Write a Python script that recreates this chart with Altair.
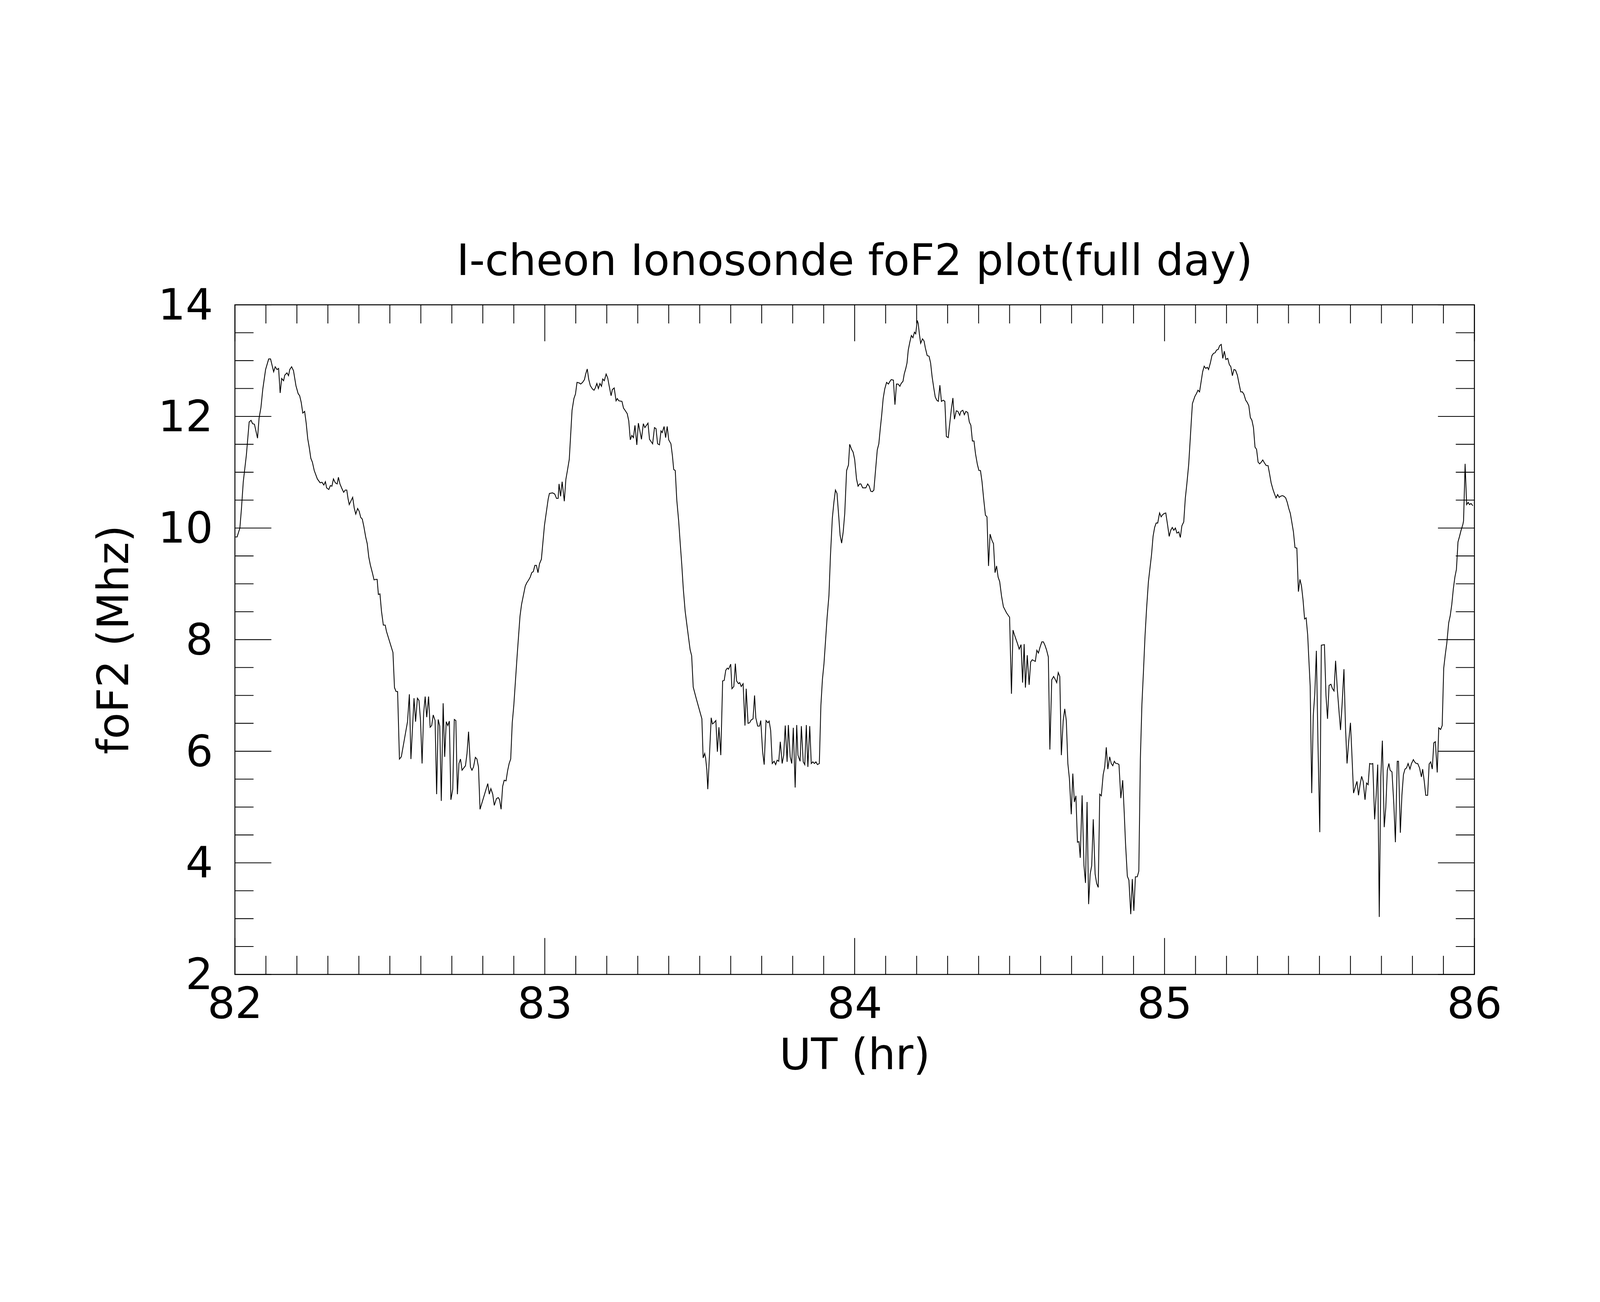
import pandas as pd
import altair as alt

# foF2 trace, four consecutive pieces of the day
ut_seg1 = [82.000, 82.007, 82.016, 82.021, 82.027, 82.037, 82.046, 82.052, 82.057, 82.063,
           82.073, 82.078, 82.084, 82.090, 82.099, 82.109, 82.115, 82.125, 82.130, 82.136,
           82.141, 82.146, 82.151, 82.157, 82.161, 82.168, 82.173, 82.177, 82.183, 82.189,
           82.197, 82.204, 82.209, 82.214, 82.219, 82.225, 82.230, 82.235, 82.240, 82.245,
           82.250, 82.256, 82.266, 82.275, 82.281, 82.287, 82.292, 82.296, 82.303, 82.308,
           82.313, 82.318, 82.324, 82.330, 82.334, 82.339, 82.345, 82.351, 82.356, 82.361,
           82.365, 82.369, 82.380, 82.385, 82.390, 82.396, 82.401, 82.406, 82.411, 82.416,
           82.422, 82.427, 82.432, 82.437, 82.444, 82.449, 82.455, 82.459, 82.463, 82.468,
           82.473, 82.479, 82.485, 82.489, 82.500, 82.510, 82.515, 82.520, 82.525, 82.531,
           82.537, 82.557, 82.563, 82.568, 82.578, 82.583, 82.589, 82.594, 82.599, 82.604,
           82.609, 82.614, 82.619, 82.625, 82.630, 82.635, 82.640, 82.646, 82.651, 82.656,
           82.661, 82.666, 82.672, 82.677, 82.682, 82.687, 82.692, 82.697, 82.703, 82.708,
           82.713, 82.718, 82.723, 82.728, 82.733, 82.744, 82.749, 82.754, 82.760, 82.765,
           82.770, 82.776, 82.781, 82.786, 82.791, 82.816, 82.821, 82.826, 82.832, 82.837,
           82.844, 82.850, 82.854, 82.859, 82.864, 82.869, 82.875, 82.880, 82.885, 82.890,
           82.895, 82.900, 82.911, 82.920, 82.925, 82.937, 82.942, 82.948, 82.953, 82.958,
           82.963, 82.968, 82.973, 82.978, 82.983, 82.989, 82.999, 83.011, 83.015, 83.025,
           83.032, 83.038, 83.043, 83.046, 83.051, 83.056]
fof2_seg1 = [9.84, 9.84, 10.00, 10.34, 10.83, 11.31, 11.90, 11.93, 11.87, 11.86,
             11.61, 11.97, 12.16, 12.49, 12.84, 13.03, 13.03, 12.80, 12.89, 12.84,
             12.86, 12.42, 12.68, 12.64, 12.74, 12.78, 12.73, 12.84, 12.89, 12.82,
             12.55, 12.41, 12.37, 12.25, 12.06, 12.09, 11.88, 11.60, 11.44, 11.25,
             11.18, 11.03, 10.88, 10.81, 10.82, 10.77, 10.83, 10.72, 10.69, 10.76,
             10.75, 10.88, 10.81, 10.79, 10.91, 10.79, 10.71, 10.64, 10.68, 10.68,
             10.53, 10.42, 10.55, 10.36, 10.25, 10.35, 10.30, 10.19, 10.16, 10.03,
             9.84, 9.72, 9.48, 9.34, 9.19, 9.07, 9.08, 9.08, 8.81, 8.82,
             8.51, 8.26, 8.26, 8.15, 7.95, 7.77, 7.14, 7.07, 7.07, 5.86,
             5.90, 6.53, 7.02, 5.86, 6.95, 6.53, 6.95, 6.91, 6.55, 5.78,
             6.68, 6.98, 6.61, 6.98, 6.43, 6.46, 6.65, 6.55, 5.23, 6.57,
             6.45, 5.11, 6.86, 5.90, 6.53, 6.46, 6.54, 5.13, 5.32, 6.57,
             6.55, 5.23, 5.78, 5.86, 5.66, 5.74, 5.96, 6.35, 5.72, 5.66,
             5.72, 5.89, 5.86, 5.72, 4.96, 5.42, 5.23, 5.33, 5.23, 5.03,
             5.15, 5.17, 5.13, 4.96, 5.37, 5.48, 5.47, 5.65, 5.78, 5.86,
             6.51, 6.82, 7.73, 8.42, 8.63, 8.96, 9.02, 9.07, 9.12, 9.20,
             9.22, 9.33, 9.33, 9.20, 9.36, 9.44, 10.05, 10.52, 10.62, 10.63,
             10.61, 10.53, 10.53, 10.79, 10.57, 10.83]

ut_seg2 = [83.063, 83.068, 83.073, 83.079, 83.083, 83.088, 83.094, 83.099, 83.104, 83.111,
           83.116, 83.122, 83.128, 83.132, 83.137, 83.142, 83.147, 83.154, 83.159, 83.163,
           83.168, 83.173, 83.178, 83.183, 83.187, 83.192, 83.198, 83.203, 83.208, 83.214,
           83.218, 83.224, 83.230, 83.234, 83.239, 83.249, 83.254, 83.259, 83.266, 83.271,
           83.276, 83.281, 83.286, 83.291, 83.297, 83.302, 83.312, 83.318, 83.323, 83.333,
           83.338, 83.348, 83.354, 83.359, 83.364, 83.370, 83.375, 83.379, 83.385, 83.390,
           83.395, 83.400, 83.407, 83.412, 83.416, 83.421, 83.426, 83.432, 83.437, 83.442,
           83.447, 83.453, 83.458, 83.469, 83.474, 83.479, 83.488, 83.507, 83.511, 83.516,
           83.519, 83.523, 83.526, 83.532, 83.537, 83.541, 83.546, 83.552, 83.557, 83.562,
           83.568, 83.574, 83.579, 83.584, 83.589, 83.593, 83.600, 83.604, 83.610, 83.615,
           83.619, 83.625, 83.629, 83.634, 83.640, 83.646, 83.650, 83.656, 83.661, 83.666,
           83.672, 83.677, 83.681, 83.687, 83.693, 83.697, 83.703, 83.708, 83.714, 83.720,
           83.724, 83.729, 83.734, 83.740, 83.745, 83.750, 83.755, 83.760, 83.766, 83.771,
           83.776, 83.782, 83.786, 83.792, 83.797, 83.802, 83.808, 83.813, 83.817, 83.824,
           83.828, 83.834, 83.839, 83.844, 83.849, 83.855, 83.860, 83.865, 83.870, 83.875,
           83.880, 83.886, 83.891, 83.896, 83.901, 83.907, 83.911, 83.917, 83.922, 83.928,
           83.933, 83.938, 83.943, 83.949, 83.953, 83.958, 83.963, 83.968, 83.974, 83.980,
           83.984, 83.990, 83.995, 84.000, 84.006, 84.011, 84.016, 84.020, 84.026, 84.031,
           84.036, 84.042, 84.047, 84.052, 84.057, 84.062, 84.067, 84.073]
fof2_seg2 = [10.48, 10.87, 11.03, 11.23, 11.62, 12.11, 12.32, 12.40, 12.61, 12.60,
             12.58, 12.61, 12.66, 12.76, 12.85, 12.66, 12.55, 12.49, 12.47, 12.51,
             12.59, 12.50, 12.59, 12.54, 12.67, 12.64, 12.76, 12.69, 12.54, 12.37,
             12.48, 12.51, 12.28, 12.32, 12.28, 12.27, 12.15, 12.11, 12.05, 11.92,
             11.58, 11.66, 11.62, 11.84, 11.49, 11.88, 11.59, 11.87, 11.80, 11.88,
             11.59, 11.51, 11.80, 11.78, 11.51, 11.49, 11.74, 11.71, 11.82, 11.62,
             11.82, 11.58, 11.51, 11.29, 11.05, 11.03, 10.50, 10.13, 9.73, 9.35,
             8.91, 8.51, 8.29, 7.82, 7.71, 7.15, 6.96, 6.58, 5.88, 5.96,
             5.88, 5.66, 5.32, 5.99, 6.60, 6.49, 6.51, 6.55, 5.99, 6.43,
             5.93, 7.26, 7.27, 7.45, 7.49, 7.47, 7.56, 7.12, 7.16, 7.57,
             7.26, 7.21, 7.23, 7.16, 7.21, 6.46, 7.12, 6.50, 6.51, 6.56,
             6.58, 7.00, 6.60, 6.45, 6.45, 6.55, 5.99, 5.76, 6.55, 6.51,
             6.54, 6.37, 5.78, 5.82, 5.76, 5.84, 5.82, 6.17, 5.78, 5.93,
             6.46, 5.81, 6.47, 5.90, 5.78, 6.42, 5.35, 6.47, 5.93, 5.82,
             6.45, 5.81, 5.76, 6.47, 5.72, 6.45, 5.78, 5.81, 5.78, 5.81,
             5.76, 5.78, 6.82, 7.29, 7.57, 8.06, 8.39, 8.79, 9.52, 10.18,
             10.46, 10.68, 10.62, 10.18, 9.87, 9.73, 9.93, 10.26, 11.03, 11.13,
             11.50, 11.41, 11.36, 11.23, 10.88, 10.75, 10.79, 10.79, 10.72, 10.72,
             10.72, 10.79, 10.75, 10.66, 10.65, 10.68, 11.01, 11.40]

ut_seg3 = [84.078, 84.083, 84.087, 84.092, 84.097, 84.103, 84.109, 84.113, 84.118, 84.125,
           84.130, 84.135, 84.140, 84.146, 84.150, 84.156, 84.160, 84.165, 84.169, 84.173,
           84.178, 84.183, 84.188, 84.193, 84.197, 84.202, 84.205, 84.209, 84.213, 84.219,
           84.224, 84.228, 84.234, 84.240, 84.245, 84.250, 84.255, 84.260, 84.265, 84.270,
           84.275, 84.280, 84.286, 84.291, 84.296, 84.302, 84.307, 84.312, 84.317, 84.322,
           84.328, 84.333, 84.339, 84.343, 84.349, 84.354, 84.359, 84.365, 84.370, 84.375,
           84.380, 84.385, 84.390, 84.396, 84.401, 84.406, 84.411, 84.416, 84.422, 84.427,
           84.432, 84.437, 84.443, 84.448, 84.453, 84.458, 84.463, 84.468, 84.474, 84.480,
           84.490, 84.500, 84.506, 84.511, 84.516, 84.521, 84.526, 84.531, 84.537, 84.542,
           84.547, 84.551, 84.557, 84.563, 84.568, 84.573, 84.583, 84.588, 84.593, 84.598,
           84.604, 84.609, 84.614, 84.619, 84.625, 84.630, 84.636, 84.642, 84.647, 84.652,
           84.657, 84.662, 84.667, 84.673, 84.678, 84.683, 84.688, 84.693, 84.699, 84.704,
           84.709, 84.714, 84.719, 84.724, 84.728, 84.734, 84.740, 84.745, 84.750, 84.755,
           84.760, 84.765, 84.770, 84.776, 84.781, 84.786, 84.791, 84.796, 84.802, 84.807,
           84.812, 84.817, 84.823, 84.828, 84.833, 84.838, 84.843, 84.848, 84.853, 84.859,
           84.865, 84.870, 84.874, 84.880, 84.885, 84.891, 84.896, 84.901, 84.906, 84.912,
           84.917, 84.922, 84.927, 84.932, 84.937, 84.942, 84.948, 84.953, 84.958, 84.963,
           84.968, 84.973, 84.978, 84.984, 84.989, 84.994, 84.999, 85.004, 85.010, 85.015,
           85.020, 85.025, 85.030, 85.035, 85.040, 85.046, 85.051, 85.056, 85.062, 85.067,
           85.072, 85.078, 85.083, 85.087, 85.090]
fof2_seg3 = [11.51, 11.80, 12.01, 12.32, 12.49, 12.61, 12.58, 12.62, 12.66, 12.65,
             12.21, 12.58, 12.58, 12.54, 12.59, 12.63, 12.76, 12.86, 12.96, 13.19,
             13.33, 13.45, 13.41, 13.51, 13.48, 13.72, 13.67, 13.47, 13.31, 13.39,
             13.35, 13.23, 13.09, 13.08, 12.96, 12.71, 12.52, 12.35, 12.29, 12.27,
             12.56, 12.27, 12.29, 12.27, 11.64, 11.62, 11.88, 12.13, 12.33, 11.95,
             12.10, 12.09, 12.02, 12.09, 12.11, 12.03, 12.09, 12.07, 11.90, 11.84,
             11.56, 11.56, 11.33, 11.14, 11.03, 11.03, 10.83, 10.54, 10.23, 10.20,
             9.32, 9.89, 9.78, 9.72, 9.20, 9.32, 9.12, 9.04, 8.78, 8.59,
             8.48, 8.40, 7.03, 8.17, 8.08, 8.00, 7.92, 7.83, 7.91, 7.23,
             7.92, 7.14, 7.72, 7.19, 7.60, 7.64, 7.61, 7.81, 7.76, 7.86,
             7.96, 7.96, 7.90, 7.82, 7.69, 6.03, 7.28, 7.34, 7.29, 7.23,
             7.41, 7.34, 5.93, 6.55, 6.76, 6.55, 5.78, 5.51, 4.87, 5.60,
             5.09, 5.20, 4.37, 4.38, 4.09, 5.21, 3.95, 3.64, 5.09, 3.26,
             3.80, 3.95, 4.78, 3.80, 3.63, 3.56, 5.23, 5.20, 5.58, 5.72,
             6.07, 5.68, 5.90, 5.78, 5.74, 5.82, 5.78, 5.78, 5.76, 5.16,
             5.48, 4.89, 4.36, 3.76, 3.69, 3.08, 3.71, 3.14, 3.75, 3.75,
             3.85, 5.86, 6.84, 7.43, 8.06, 8.55, 9.04, 9.28, 9.52, 9.85,
             10.01, 10.09, 10.09, 10.27, 10.20, 10.24, 10.26, 10.27, 10.05, 9.85,
             9.96, 10.01, 9.96, 10.00, 9.91, 9.93, 9.83, 10.04, 10.11, 10.53,
             10.79, 11.14, 11.60, 11.97, 12.23]

ut_seg4 = [85.098, 85.103, 85.108, 85.113, 85.118, 85.123, 85.128, 85.133, 85.138, 85.142,
           85.148, 85.153, 85.158, 85.163, 85.168, 85.173, 85.178, 85.183, 85.188, 85.193,
           85.198, 85.204, 85.209, 85.214, 85.219, 85.224, 85.229, 85.235, 85.240, 85.246,
           85.251, 85.256, 85.262, 85.267, 85.272, 85.277, 85.282, 85.287, 85.292, 85.297,
           85.302, 85.307, 85.312, 85.317, 85.322, 85.328, 85.334, 85.339, 85.344, 85.350,
           85.355, 85.360, 85.365, 85.370, 85.375, 85.380, 85.385, 85.391, 85.396, 85.401,
           85.406, 85.410, 85.416, 85.421, 85.427, 85.432, 85.437, 85.442, 85.447, 85.452,
           85.457, 85.462, 85.465, 85.470, 85.475, 85.480, 85.485, 85.490, 85.495, 85.501,
           85.506, 85.516, 85.521, 85.526, 85.531, 85.537, 85.542, 85.547, 85.552, 85.558,
           85.563, 85.568, 85.573, 85.579, 85.584, 85.589, 85.594, 85.600, 85.604, 85.610,
           85.615, 85.621, 85.626, 85.631, 85.636, 85.641, 85.647, 85.652, 85.657, 85.662,
           85.667, 85.672, 85.678, 85.683, 85.688, 85.693, 85.698, 85.703, 85.709, 85.714,
           85.719, 85.724, 85.728, 85.734, 85.740, 85.745, 85.751, 85.755, 85.761, 85.766,
           85.771, 85.776, 85.781, 85.786, 85.792, 85.797, 85.803, 85.807, 85.812, 85.817,
           85.823, 85.829, 85.833, 85.838, 85.843, 85.849, 85.854, 85.859, 85.864, 85.869,
           85.874, 85.880, 85.885, 85.891, 85.896, 85.901, 85.906, 85.911, 85.917, 85.922,
           85.927, 85.932, 85.937, 85.942, 85.947, 85.952, 85.957, 85.963, 85.965, 85.970,
           85.975, 85.980, 85.984, 85.989, 85.995]
fof2_seg4 = [12.36, 12.41, 12.47, 12.44, 12.62, 12.80, 12.90, 12.86, 12.88, 12.84,
             12.96, 13.09, 13.13, 13.14, 13.19, 13.20, 13.27, 13.29, 13.04, 13.17,
             13.02, 13.04, 12.93, 12.89, 12.73, 12.84, 12.83, 12.74, 12.60, 12.44,
             12.44, 12.40, 12.29, 12.25, 12.19, 11.98, 11.93, 11.80, 11.45, 11.41,
             11.18, 11.15, 11.18, 11.22, 11.17, 11.12, 11.12, 10.97, 10.81, 10.69,
             10.61, 10.54, 10.60, 10.55, 10.57, 10.58, 10.57, 10.54, 10.46, 10.35,
             10.26, 10.13, 9.93, 9.65, 9.64, 8.86, 9.08, 8.96, 8.71, 8.37,
             8.39, 8.08, 7.73, 7.17, 5.25, 6.64, 7.04, 7.80, 6.19, 4.55,
             7.90, 7.91, 7.00, 6.58, 7.18, 7.20, 7.12, 7.08, 7.62, 7.08,
             6.72, 6.38, 6.84, 7.47, 6.43, 5.78, 6.15, 6.51, 6.03, 5.25,
             5.35, 5.46, 5.21, 5.40, 5.55, 5.46, 5.13, 5.43, 5.40, 5.78,
             5.77, 5.78, 4.78, 5.21, 5.76, 3.03, 5.54, 6.19, 4.64, 4.99,
             5.66, 5.78, 5.66, 5.63, 5.05, 4.37, 5.82, 5.82, 4.54, 5.21,
             5.58, 5.68, 5.70, 5.78, 5.68, 5.78, 5.85, 5.81, 5.78, 5.78,
             5.70, 5.54, 5.68, 5.47, 5.21, 5.21, 5.77, 5.81, 5.68, 6.15,
             6.17, 5.62, 6.42, 6.39, 6.46, 7.49, 7.73, 7.94, 8.30, 8.43,
             8.63, 8.91, 9.12, 9.26, 9.75, 9.85, 9.96, 10.07, 10.13, 11.15,
             10.42, 10.46, 10.42, 10.44, 10.40]

# axis ticks
x_major = [82, 83, 84, 85, 86]
y_major = [2, 4, 6, 8, 10, 12, 14]
x_minor = [round(82 + i / 10, 1) for i in range(1, 40) if i % 10]
y_minor = [2 + i / 2 for i in range(1, 24) if i % 4]

W, H = 4524, 2444
MAJOR, MINOR = 133, 68
FONT = "DejaVu Sans"
FS = 158

df = pd.DataFrame({
    "UT": ut_seg1 + ut_seg2 + ut_seg3 + ut_seg4,
    "foF2": fof2_seg1 + fof2_seg2 + fof2_seg3 + fof2_seg4,
})

xscale = alt.Scale(domain=[82, 86], nice=False, zero=False)
yscale = alt.Scale(domain=[2, 14], nice=False, zero=False)

x_axis = alt.Axis(values=x_major, format="d", ticks=False, tickSize=0, domain=False, grid=False,
                  labelFont=FONT, labelFontSize=FS, labelColor="black", labelPadding=34,
                  labelLimit=0, labelFlush=False,
                  titleFont=FONT, titleFontSize=FS, titleFontWeight="normal", titleColor="black",
                  titleX=W / 2, titleY=345, titleBaseline="alphabetic", titleAlign="center")
y_axis = alt.Axis(values=y_major, format="d", ticks=False, tickSize=0, domain=False, grid=False,
                  labelFont=FONT, labelFontSize=FS, labelColor="black", labelPadding=80,
                  labelLimit=0, labelOffset=6, labelFlush=False,
                  titleFont=FONT, titleFontSize=FS, titleFontWeight="normal", titleColor="black",
                  titleAngle=270, titleX=-390, titleY=H / 2, titleBaseline="alphabetic",
                  titleAlign="center")


def xenc():
    return alt.X("UT:Q", scale=xscale, title="UT (hr)", axis=x_axis)


def yenc():
    return alt.Y("foF2:Q", scale=yscale, title="foF2 (Mhz)", axis=y_axis)


line = alt.Chart(df).mark_line(color="black", strokeWidth=3).encode(x=xenc(), y=yenc())


def yticks(values, x0, x1):
    return alt.Chart(pd.DataFrame({"foF2": values})).mark_rule(color="black", strokeWidth=3).encode(
        y=yenc(), x=alt.value(x0), x2=alt.value(x1))


def xticks(values, y0, y1):
    return alt.Chart(pd.DataFrame({"UT": values})).mark_rule(color="black", strokeWidth=3).encode(
        x=xenc(), y=alt.value(y0), y2=alt.value(y1))


ticks = [
    yticks(y_major, 0, MAJOR), yticks(y_minor, 0, MINOR),
    yticks(y_major, W, W - MAJOR), yticks(y_minor, W, W - MINOR),
    xticks(x_major, H, H - MAJOR), xticks(x_minor, H, H - MINOR),
    xticks(x_major, 0, MAJOR), xticks(x_minor, 0, MINOR),
]

# whole svg = 5817 x 3317, i.e. the 5833 x 3333 window less the page margin
chart = alt.layer(line, *ticks).properties(
    width=W,
    height=H,
    background="white",
    autosize=alt.AutoSizeParams(type="none"),
    padding={"left": 846, "top": 395, "right": 447, "bottom": 478},
    title=alt.TitleParams("I-cheon Ionosonde foF2 plot(full day)", font=FONT, fontSize=FS,
                          fontWeight="normal", color="black", anchor="middle",
                          baseline="alphabetic", offset=-122),
).configure_view(
    stroke="black", strokeWidth=3.5
)

chart.save("out.html", embed_options={"renderer": "svg", "actions": False})
